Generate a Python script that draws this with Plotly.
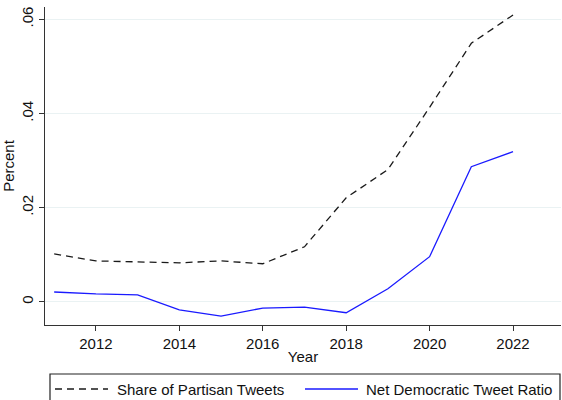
import plotly.graph_objects as go

years = [2011, 2012, 2013, 2014, 2015, 2016, 2017, 2018, 2019, 2020, 2021, 2022]
share_partisan = [0.0102, 0.0087, 0.0085, 0.0083, 0.0087, 0.0081, 0.0117, 0.0221, 0.0281, 0.0413, 0.0549, 0.0609]
net_democratic = [0.0021, 0.0017, 0.0015, -0.0017, -0.0030, -0.0013, -0.0011, -0.0023, 0.0028, 0.0096, 0.0287, 0.0319]

series_names = ["Share of Partisan Tweets", "Net Democratic Tweet Ratio"]
series_colors = ["#1a1a1a", "#1a1aff"]
series_dash = ["7px,5px", "solid"]

x_ticks = [2012, 2014, 2016, 2018, 2020, 2022]
y_ticks = [0, 0.02, 0.04, 0.06]
y_tick_text = ["0", ".02", ".04", ".06"]

font = "Liberation Sans, Arial, Helvetica, sans-serif"

# plot-area geometry in pixels, used to place the legend in paper units
L, R, T, B = 45, 561, 7, 325
PW, PH = R - L, B - T


def px(x):
    return (x - L) / PW


def py(y):
    return (B - y) / PH


fig = go.Figure()
for vals, name, col, dash in zip([share_partisan, net_democratic], series_names, series_colors, series_dash):
    fig.add_trace(go.Scatter(
        x=years, y=vals, mode="lines", name=name, showlegend=False,
        line=dict(color=col, width=1.3, dash=dash),
    ))

# legend frame (runs past the bottom edge) with its two keys
fig.add_shape(
    type="rect", xref="paper", yref="paper",
    x0=px(50), x1=px(560), y0=py(410), y1=py(374),
    line=dict(color="#222", width=1.2), fillcolor="rgba(0,0,0,0)",
)
key_x = [(55, 108, 115), (305, 358, 364)]
for (x0, x1, xt), name, col, dash in zip(key_x, series_names, series_colors, series_dash):
    fig.add_shape(
        type="line", xref="paper", yref="paper",
        x0=px(x0), x1=px(x1), y0=py(389), y1=py(389),
        line=dict(color=col, width=1.3, dash=dash),
    )
    fig.add_annotation(
        xref="paper", yref="paper", x=px(xt), y=py(389),
        xanchor="left", yanchor="middle", text=name, showarrow=False,
        font=dict(size=15, family=font, color="#111"),
    )

fig.update_layout(
    width=562, height=400,
    margin=dict(l=L, r=562 - R, t=T, b=400 - B),
    paper_bgcolor="white", plot_bgcolor="white",
    font=dict(family=font, size=15, color="#111"),
    showlegend=False,
    xaxis=dict(
        range=[2010.78, 2023.15], tickvals=x_ticks, ticks="outside", ticklen=5,
        tickcolor="#333", showline=True, linecolor="#333", linewidth=1.2,
        showgrid=False, zeroline=False,
        title=dict(text="Year", standoff=0, font=dict(size=15)),
    ),
    yaxis=dict(
        range=[-0.0049, 0.0626], tickvals=y_ticks, ticktext=y_tick_text,
        tickangle=-90, ticks="outside", ticklen=5, tickcolor="#333",
        showline=True, linecolor="#333", linewidth=1.2,
        showgrid=True, gridcolor="#eaf2f3", gridwidth=1, zeroline=False,
        title=dict(text="Percent", standoff=0, font=dict(size=15)),
    ),
)

fig.write_html("out.html")
